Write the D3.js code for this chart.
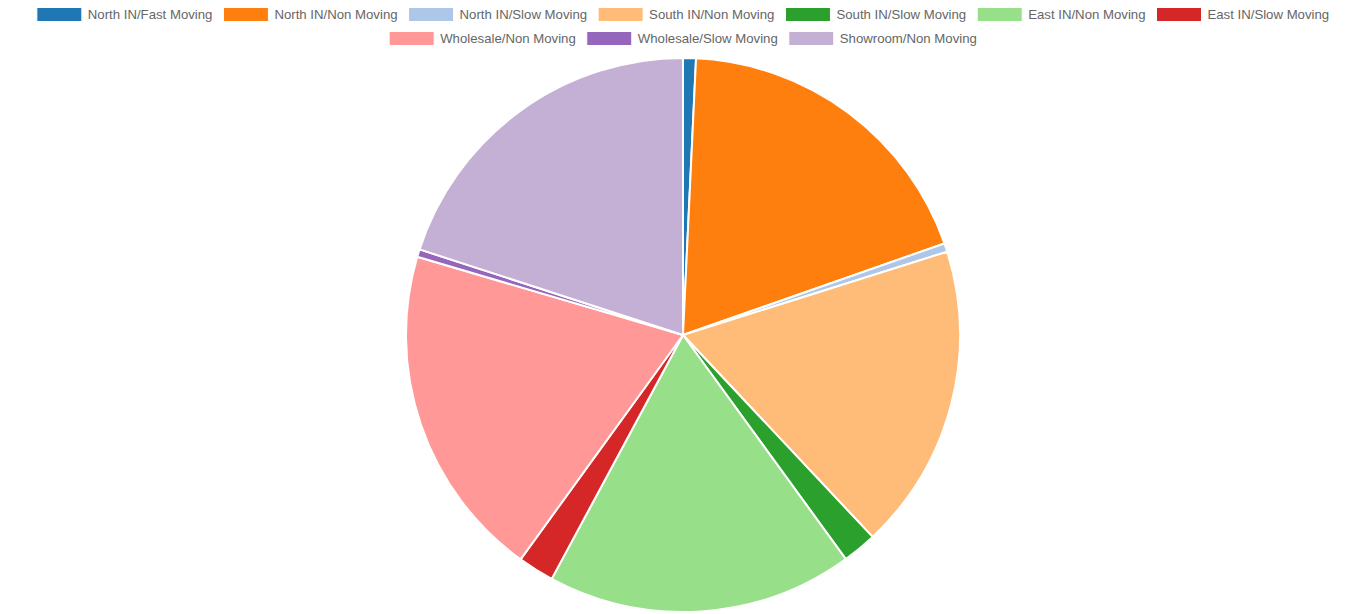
<!DOCTYPE html>
<html lang="en">
<head>
    <meta charset="UTF-8">
    <title>Stock Movement by Location</title>
    <script src="https://d3js.org/d3.v7.min.js"></script>
    <style>
        body {
            margin: 0;
            background: #fff;
            font-family: "Liberation Sans", Arial, Helvetica, sans-serif;
        }
        .legend text {
            font-size: 13.2px;
            fill: #666;
        }
    </style>
</head>
<body>
    <svg width="1366" height="614"></svg>
    <script>
        const width = 1366;
        const height = 614;
        const svg = d3.select("svg");

        // Data
        const labels = [
            "North IN/Fast Moving", "North IN/Non Moving", "North IN/Slow Moving",
            "South IN/Non Moving", "South IN/Slow Moving", "East IN/Non Moving",
            "East IN/Slow Moving", "Wholesale/Non Moving", "Wholesale/Slow Moving",
            "Showroom/Non Moving"
        ];
        const values = [27, 680, 18, 643, 72, 643, 76, 705, 16, 720];
        const colors = [
            "#1f77b4", "#ff7f0e", "#aec7e8", "#ffbb78", "#2ca02c",
            "#98df8a", "#d62728", "#ff9896", "#9467bd", "#c5b0d5"
        ];
        // legend rows as shown
        const legendRows = [
            [0, 1, 2, 3, 4, 5, 6],
            [7, 8, 9]
        ];

        const color = d3.scaleOrdinal().domain(labels).range(colors);

        const cx = 683, cy = 335, radius = 277;

        const pie = d3.pie().sort(null).value(d => d.value);
        const arc = d3.arc().innerRadius(0).outerRadius(radius);

        const data = labels.map((l, i) => ({ label: l, value: values[i] }));

        svg.append("g")
            .attr("transform", `translate(${cx},${cy})`)
            .selectAll("path")
            .data(pie(data))
            .enter().append("path")
            .attr("d", arc)
            .attr("fill", d => color(d.data.label))
            .attr("stroke", "#fff")
            .attr("stroke-width", 2)
            .attr("stroke-linejoin", "round");

        // Legend
        const boxW = 45, boxH = 14, textGap = 6, itemGap = 11;
        const legend = svg.append("g").attr("class", "legend");

        legendRows.forEach((row, r) => {
            const yc = 14.5 + r * 24;
            const g = legend.append("g");
            // measure text widths first
            const items = row.map(i => {
                const t = g.append("text").text(labels[i]);
                const w = t.node().getComputedTextLength();
                t.remove();
                return { i, w };
            });
            const total = d3.sum(items, d => boxW + textGap + d.w) + itemGap * (items.length - 1);
            let x = (width - total) / 2;
            items.forEach(d => {
                g.append("rect")
                    .attr("x", x)
                    .attr("y", yc - boxH / 2)
                    .attr("width", boxW)
                    .attr("height", boxH)
                    .attr("fill", colors[d.i])
                    .attr("stroke", "#fff")
                    .attr("stroke-width", 1);
                g.append("text")
                    .attr("x", x + boxW + textGap)
                    .attr("y", yc)
                    .attr("dy", "0.35em")
                    .text(labels[d.i]);
                x += boxW + textGap + d.w + itemGap;
            });
        });
    </script>
</body>
</html>
